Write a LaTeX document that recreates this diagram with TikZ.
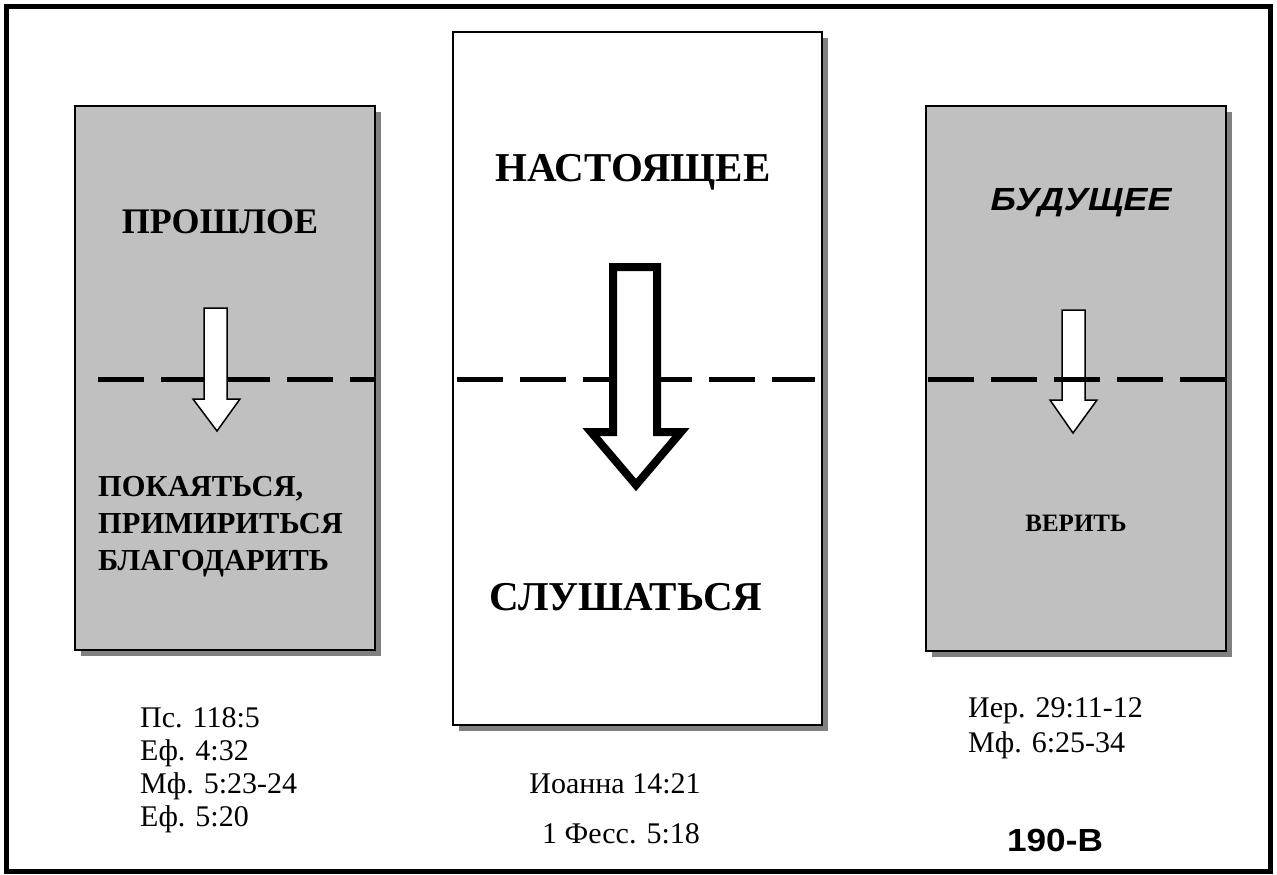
\documentclass[tikz,border=0pt]{standalone}
\usepackage{fontspec}
\setmainfont{Liberation Serif}
\newfontfamily\arialfont{Liberation Sans}
\definecolor{boxgray}{HTML}{C0C0C0}
\definecolor{shadowgray}{HTML}{808080}
\tikzset{
  framebox/.style={draw=black, line width=2},
  shadowbox/.style={fill=shadowgray, draw=none},
  dashline/.style={line width=5, dash pattern=on 46pt off 17pt},
  thinarrow/.style={fill=white, draw=black, line width=1.5, line join=miter},
  bigarrow/.style={fill=white, draw=black, line width=8, line join=miter, miter limit=10},
  title/.style={anchor=base, inner sep=0, font=\fontsize{41}{45}\selectfont\bfseries},
  sidetitle/.style={anchor=base, inner sep=0, font=\fontsize{36}{40}\selectfont\bfseries},
  verb/.style={anchor=base west, inner sep=0, font=\fontsize{30.5}{34}\selectfont\bfseries},
  ref/.style={anchor=base west, inner sep=0, font=\fontsize{30}{34}\selectfont},
  cref/.style={anchor=base, inner sep=0, font=\fontsize{30}{34}\selectfont},
  sanstext/.style={anchor=base, inner sep=0},
}
\begin{document}
\begin{tikzpicture}[x=1pt, y=-1pt]
\useasboundingbox (0,0) rectangle (1277,875);
\fill[white] (0,0) rectangle (1277,875);
% outer frame
\draw[line width=5] (6.5,6.5) rectangle (1270,871.5);

% left box
\fill[shadowbox] (81,112) rectangle (381,656);
\filldraw[framebox, fill=boxgray] (75,106) rectangle (375,650);
% middle box
\fill[shadowbox] (459,38) rectangle (828,731);
\filldraw[framebox, fill=white] (453,32) rectangle (822,725);
% right box
\fill[shadowbox] (932,112) rectangle (1232,657);
\filldraw[framebox, fill=boxgray] (926,106) rectangle (1226,651);

% dashed lines
\draw[dashline] (98,379) -- (375,379);
\draw[dashline] (457,379) -- (815,379);

% left arrow
\draw[thinarrow] (204,308) -- (227,308) -- (227,399) -- (240,399) -- (217,431) -- (193,399) -- (204,399) -- cycle;
% middle arrow
\draw[bigarrow] (613,267) -- (657,267) -- (657,432) -- (681,432) -- (636,485) -- (591,432) -- (613,432) -- cycle;
% right arrow
\draw[thinarrow] (1062,310) -- (1085,310) -- (1085,400) -- (1097,400) -- (1073,433) -- (1050,400) -- (1062,400) -- cycle;
\draw[dashline] (928,379) -- (1226,379);

% titles
\node[sidetitle] (past) at (220,233) {ПРОШЛОЕ};
\node[title] (present) at (633,181) {НАСТОЯЩЕЕ};
\node[sanstext, font=\arialfont\fontsize{32}{36}\selectfont\bfseries\itshape] (future) at (1081,210) {\scalebox{1.12}[1]{БУДУЩЕЕ}};

% verbs
\node[verb] (v1) at (98,496) {ПОКАЯТЬСЯ,};
\node[verb] (v2) at (98,533) {ПРИМИРИТЬСЯ};
\node[verb] (v3) at (98,570) {БЛАГОДАРИТЬ};
\node[title] (obey) at (626,610) {СЛУШАТЬСЯ};
\node[anchor=base, inner sep=0, font=\fontsize{25}{29}\selectfont\bfseries] (believe) at (1076,531) {ВЕРИТЬ};

% references
\node[ref] (r1) at (140,727) {Пс. 118:5};
\node[ref] (r2) at (140,760) {Еф. 4:32};
\node[ref] (r3) at (140,793) {Мф. 5:23-24};
\node[ref] (r4) at (140,826) {Еф. 5:20};
\node[cref] (m1) at (615,793) {Иоанна 14:21};
\node[cref] (m2) at (621,843) {1 Фесс. 5:18};
\node[ref] (f1) at (968,717) {Иер. 29:11-12};
\node[ref] (f2) at (968,752) {Мф. 6:25-34};
\node[sanstext, font=\arialfont\fontsize{32}{36}\selectfont\bfseries] (code) at (1055,851) {\scalebox{1.1}[1]{190-В}};
\end{tikzpicture}
\end{document}
